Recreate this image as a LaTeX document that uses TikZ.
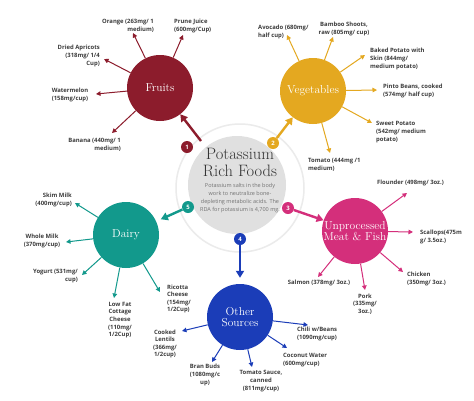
\documentclass[tikz,border=0pt]{standalone}
\usepackage{fontspec}
\newfontfamily\labfont{Open Sans}
\usetikzlibrary{arrows.meta}
\definecolor{cfr}{HTML}{8C1C2C}
\definecolor{cveg}{HTML}{E4A820}
\definecolor{cmeat}{HTML}{D42F7B}
\definecolor{cdai}{HTML}{12998C}
\definecolor{coth}{HTML}{1B3DB8}
\definecolor{ctxt}{HTML}{3C3C3C}
\definecolor{cgray}{HTML}{E0E0E0}
\definecolor{cring}{HTML}{EBEBEB}
\begin{document}
\begin{tikzpicture}[x=1pt,y=-1pt,
 hub/.style={circle,minimum size=66pt,inner sep=0pt,text=white,align=center,font=\fontsize{11.5}{11}\selectfont},
 badge/.style={circle,minimum size=12pt,inner sep=0pt,text=white,font=\labfont\bfseries\fontsize{6}{6}\selectfont},
 lab/.style={text=ctxt,font=\labfont\bfseries\fontsize{5.9}{7.6}\selectfont,inner sep=0pt},
 labl/.style={lab,align=left,anchor=west},
 labr/.style={lab,align=right,anchor=east},
 labc/.style={lab,align=center},
 br/.style={line width=1pt,-{Triangle[length=4.5pt,width=4.5pt]}},
 big/.style={line width=2.4pt,-{Triangle[length=7pt,width=8pt]}}
]
\fill[white] (0,0) rectangle (474,400);
\useasboundingbox (0,0) rectangle (474,400);

% centre
\draw[cring,line width=1.5pt] (240,188) circle[radius=64];
\fill[cgray] (237,185) circle[radius=49];
\node[font=\fontsize{16.5}{17}\selectfont,text=black!80,align=center] (title) at (240,162) {Potassium\\Rich Foods};
\node[font=\labfont\fontsize{5.5}{8}\selectfont,text=black!55,align=center] (body) at (240,198) {Potassium salts in the body\\work to neutralize bone-\\depleting metabolic acids. The\\RDA for potassium is 4,700 mg.};

% hubs
\node[hub,fill=cfr] (fr) at (160,88) {Fruits};
\node[hub,fill=cveg] (veg) at (313,91) {Vegetables};
\node[hub,fill=cmeat] (meat) at (355,231) {Unprocessed\\Meat \& Fish};
\node[hub,fill=cdai] (dai) at (126,235) {Dairy};
\node[hub,fill=coth] (oth) at (240,317) {Other\\Sources};

% badges
\node[badge,fill=cfr] (b1) at (187,147) {1};
\node[badge,fill=cveg] (b2) at (273,143) {2};
\node[badge,fill=cmeat] (b3) at (288,208) {3};
\node[badge,fill=coth] (b4) at (240,239) {4};
\node[badge,fill=cdai] (b5) at (188,207) {5};
\coordinate (a1) at (201,141);

\draw[big,cfr] (a1) -- (fr);
\draw[big,cveg] (b2) -- (veg);
\draw[big,cmeat] (b3) -- (meat);
\draw[big,coth,shorten >=6pt] (b4) -- (oth);
\draw[big,cdai,shorten >=5pt] (b5) -- (dai);

% Fruits
\coordinate (f1) at (133,33); \coordinate (f2) at (183,35); \coordinate (f3) at (104,59);
\coordinate (f4) at (96,94); \coordinate (f5) at (112,133);
\foreach \t in {f1,f2,f3,f4,f5} \draw[br,cfr] (fr) -- (\t);
\node[labr] (l1) at (154,26) {Orange (263mg/ 1\\medium)};
\node[labl] (l2) at (174,26) {Prune Juice\\(600mg/Cup)};
\node[labr] (l3) at (100,56) {Dried Apricots\\(318mg/ 1/4\\Cup)};
\node[labc] (l4) at (70,95) {Watermelon\\(158mg/cup)};
\node[labr] (l5) at (121,145) {Banana (440mg/ 1\\medium)};

% Vegetables
\coordinate (v1) at (287,35); \coordinate (v2) at (333,37); \coordinate (v3) at (365,55);
\coordinate (v4) at (377,90); \coordinate (v5) at (372,123); \coordinate (v6) at (330,153);
\foreach \t in {v1,v2,v3,v4,v5,v6} \draw[br,cveg] (veg) -- (\t);
\node[labl] (lv1) at (258,32) {Avocado (680mg/\\half cup)};
\node[labc] (lv2) at (344,29) {Bamboo Shoots,\\raw (805mg/ cup)};
\node[labl] (lv3) at (370,59) {Baked Potato with\\Skin (844mg/\\medium potato)};
\node[labl] (lv4) at (383,91) {Pinto Beans, cooked\\(574mg/ half cup)};
\node[labl] (lv5) at (376,132) {Sweet Potato\\(542mg/ medium\\potato)};
\node[labl] (lv6) at (308,165) {Tomato (444mg /1\\medium)};

% Meat
\coordinate (m1) at (407,193); \coordinate (m2) at (413,232); \coordinate (m3) at (403,272);
\coordinate (m4) at (365,290); \coordinate (m5) at (318,277);
\foreach \t in {m1,m2,m3,m4,m5} \draw[br,cmeat] (meat) -- (\t);
\node[labl] (lm1) at (377,183) {Flounder (498mg/ 3oz.)};
\node[labl] (lm2) at (420,237) {Scallops(475m\\g/ 3.5oz.)};
\node[labl] (lm3) at (407,279) {Chicken\\(350mg/ 3oz.)};
\node[labc] (lm4) at (365,304) {Pork\\(335mg/\\3oz.)};
\node[labc] (lm5) at (319,283) {Salmon (378mg/ 3oz.)};

% Dairy
\coordinate (d1) at (75,203); \coordinate (d2) at (66,242); \coordinate (d3) at (82,275);
\coordinate (d4) at (114,298); \coordinate (d5) at (160,292);
\foreach \t in {d1,d2,d3,d4,d5} \draw[br,cdai] (dai) -- (\t);
\node[labr] (ld1) at (72,200) {Skim Milk\\(400mg/cup)};
\node[labc] (ld2) at (42,241) {Whole Milk\\(370mg/cup)};
\node[labr] (ld3) at (78,276) {Yogurt (531mg/\\cup)};
\node[labc] (ld4) at (120,320) {Low Fat\\Cottage\\Cheese\\(110mg/\\1/2Cup)};
\node[labl] (ld5) at (167,299) {Ricotta\\Cheese\\(154mg/\\1/2Cup)};

% Other
\coordinate (o1) at (182,331); \coordinate (o2) at (212,362); \coordinate (o3) at (252,367);
\coordinate (o4) at (287,348); \coordinate (o5) at (308,325);
\foreach \t in {o1,o2,o3,o4,o5} \draw[br,coth] (oth) -- (\t);
\node[labc] (lo1) at (165,344) {Cooked\\Lentils\\(366mg/\\1/2cup)};
\node[labc] (lo2) at (205,375) {Bran Buds\\(1080mg/c\\up)};
\node[labc] (lo3) at (261,381) {Tomato Sauce,\\canned\\(811mg/cup)};
\node[labl] (lo4) at (283,360) {Coconut Water\\(600mg/cup)};
\node[labl] (lo5) at (297,334) {Chili w/Beans\\(1090mg/cup)};
\end{tikzpicture}
\end{document}
